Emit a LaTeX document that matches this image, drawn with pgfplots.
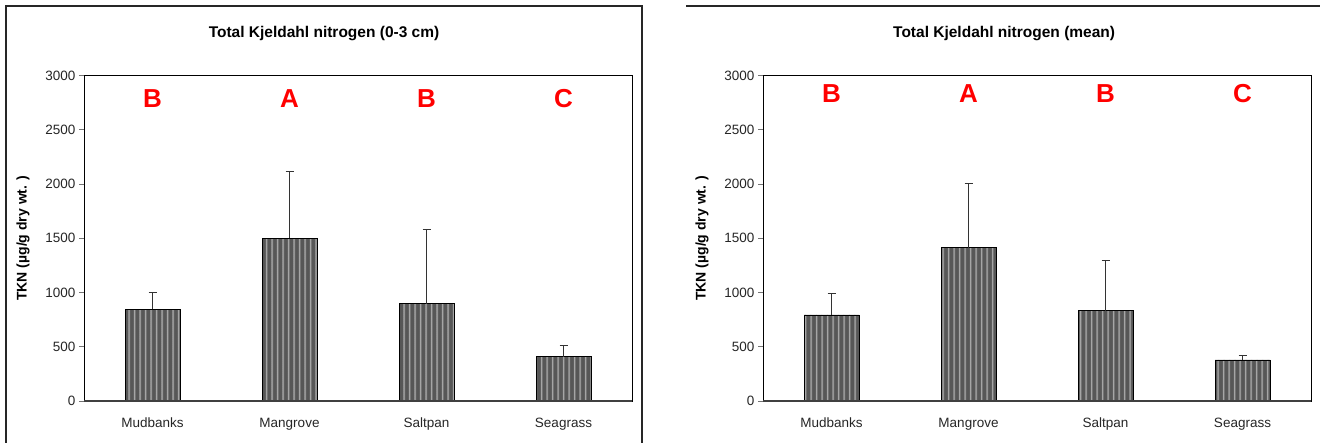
\documentclass[border=0pt]{standalone}
\usepackage{fontspec}
\setmainfont{Liberation Sans}
\usepackage{pgfplots}
\usepackage{pgfplotstable}
\pgfplotsset{compat=1.18}
\usetikzlibrary{patterns}
\pgfdeclarepatternformonly{vzig}{\pgfpoint{-1pt}{-1pt}}{\pgfpoint{6pt}{3pt}}{\pgfpoint{5.5pt}{2pt}}{%
 \pgfsetlinewidth{0.8pt}%
 \pgfpathmoveto{\pgfpoint{2pt}{0pt}}%
 \pgfpathlineto{\pgfpoint{3.2pt}{1pt}}%
 \pgfpathlineto{\pgfpoint{2pt}{2pt}}%
 \pgfusepath{stroke}}

\pgfplotstableread{
x y e
0 845 158
1 1500 617
2 896 682
3 407 105
}\topdata
\pgfplotstableread{
x y e
0 793 196
1 1414 588
2 833 465
3 378 38
}\meandata

\pgfplotsset{tkn/.style={
  scale only axis, width=548pt, height=325.5pt,
  xmin=-0.5, xmax=3.5, ymin=0, ymax=3000,
  ybar, bar width=55pt,
  ytick={0,500,...,3000}, xtick={0,1,2,3},
  xticklabels={Mudbanks,Mangrove,Saltpan,Seagrass},
  xtick style={draw=none},
  ytick style={black!55, line width=0.8pt},
  tick align=outside, major tick length=5pt,
  tick pos=left,
  axis line style={black, line width=0.9pt},
  /pgf/number format/assume math mode=true,
  /pgf/number format/1000 sep={},
  ticklabel style={font=\fontsize{13.5}{16}\selectfont, text=black!85},
  xticklabel style={yshift=-8.5pt},
  ylabel={TKN (µg/g dry wt. )},
  ylabel style={font=\bfseries\fontsize{14}{16}\selectfont, at={(axis description cs:-0.1113,0.5)}, anchor=center},
  title style={font=\bfseries\fontsize{15.5}{18}\selectfont, anchor=center},
  clip=false,
}}
\pgfplotsset{tknbar/.style={
  draw=black, line width=0.8pt, fill=black!66,
  postaction={pattern=vzig, pattern color=black!32},
  error bars/.cd, y dir=plus, y explicit,
  error bar style={black!80, line width=0.8pt},
  error mark options={rotate=90, mark size=4pt, black!80, line width=1pt},
}}

\begin{document}
\begin{tikzpicture}[x=1pt,y=1pt]
\useasboundingbox (0pt,0pt) rectangle (1320pt,443pt);
% panel frames
\draw[black!85, line width=1.6pt] (6pt,-5pt) -- (6pt,437pt) -- (642pt,437pt) -- (642pt,-5pt);
\draw[black!85, line width=1.6pt] (686pt,437pt) -- (1325pt,437pt);

\begin{axis}[tkn, at={(84pt,42pt)}, anchor=south west,
  title={Total Kjeldahl nitrogen (0-3 cm)},
  title style={at={(axis description cs:0.438,1.112)}}]
\addplot[tknbar] table[x=x, y=y, y error=e] {\topdata};
\draw[black!75, line width=2pt] (rel axis cs:0,0) -- (rel axis cs:1,0);
\foreach \i/\l in {0/B,1/A,2/B,3/C}{
  \edef\tmp{\noexpand\node[text=red, font=\noexpand\bfseries\noexpand\fontsize{26}{30}\noexpand\selectfont] at (axis cs:\i,2790) {\l};}\tmp
}
\end{axis}

\begin{axis}[tkn, at={(763pt,42pt)}, anchor=south west,
  title={Total Kjeldahl nitrogen (mean)},
  title style={at={(axis description cs:0.44,1.112)}}]
\addplot[tknbar] table[x=x, y=y, y error=e] {\meandata};
\draw[black!75, line width=2pt] (rel axis cs:0,0) -- (rel axis cs:1,0);
\foreach \i/\l in {0/B,1/A,2/B,3/C}{
  \edef\tmp{\noexpand\node[text=red, font=\noexpand\bfseries\noexpand\fontsize{26}{30}\noexpand\selectfont] at (axis cs:\i,2830) {\l};}\tmp
}
\end{axis}
\end{tikzpicture}
\end{document}
